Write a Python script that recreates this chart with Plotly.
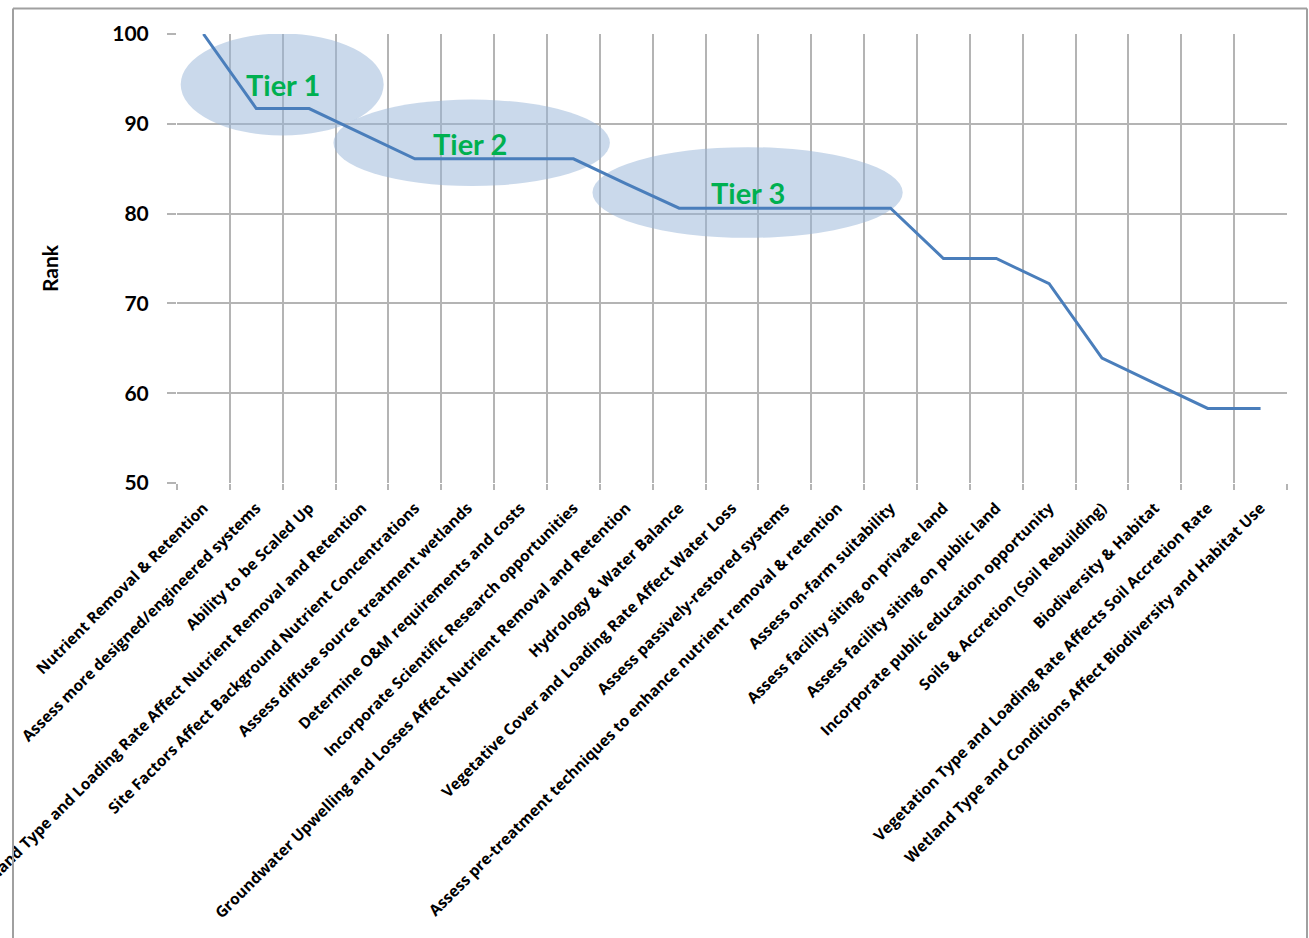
import plotly.graph_objects as go

categories = [
    "Nutrient Removal & Retention",
    "Assess more designed/engineered systems",
    "Ability to be Scaled Up",
    "Wetland Type and Loading Rate Affect Nutrient Removal and Retention",
    "Site Factors Affect Background Nutrient Concentrations",
    "Assess diffuse source treatment wetlands",
    "Determine O&M requirements and costs",
    "Incorporate Scientific Research opportunities",
    "Groundwater Upwelling and Losses Affect Nutrient Removal and Retention",
    "Hydrology & Water Balance",
    "Vegetative Cover and Loading Rate Affect Water Loss",
    "Assess passively-restored systems",
    "Assess pre-treatment techniques to enhance nutrient removal & retention",
    "Assess on-farm suitability",
    "Assess facility siting on private land",
    "Assess facility siting on public land",
    "Incorporate public education opportunity",
    "Soils & Accretion (Soil Rebuilding)",
    "Biodiversity & Habitat",
    "Vegetation Type and Loading Rate Affects Soil Accretion Rate",
    "Wetland Type and Conditions Affect Biodiversity and Habitat Use",
]
rank = [100.0, 91.7, 91.7, 88.9, 86.1, 86.1, 86.1, 86.1, 83.3, 80.6, 80.6,
        80.6, 80.6, 80.6, 75.0, 75.0, 72.2, 63.9, 61.1, 58.3, 58.3]

y_ticks = [50, 60, 70, 80, 90, 100]

tier_labels = ["Tier 1", "Tier 2", "Tier 3"]
tier_label_x = [1.5, 5.05, 10.3]
tier_label_y = [94.4, 87.8, 82.3]
# ellipse extents (x in category index units, y in rank units)
tier_x0 = [-0.43, 2.46, 7.36]
tier_x1 = [3.41, 7.69, 13.23]
tier_y0 = [88.7, 83.06, 77.3]
tier_y1 = [100.05, 92.7, 87.4]

GRID = "#b4b4b4"
FONT = "Lato"
CAT_FONT = "Open Sans"

fig = go.Figure()
fig.add_trace(go.Scatter(
    x=categories, y=rank, mode="lines",
    line=dict(color="#4A7EBB", width=3),
    showlegend=False, hoverinfo="x+y",
))

shapes = []
for x0, x1, y0, y1 in zip(tier_x0, tier_x1, tier_y0, tier_y1):
    shapes.append(dict(type="circle", xref="x", yref="y", x0=x0, x1=x1, y0=y0, y1=y1,
                       fillcolor="rgba(149,179,215,0.5)", line=dict(width=0),
                       layer="between"))

# outer frame (paper coordinates relative to plot area)
W, H = 1309, 938
L, R, T, B = 177, 22, 33.5, 454.5
pw, ph = W - L - R, H - T - B
def px(x):
    return (x - L) / pw
def py(y):
    return 1 - (y - T) / ph
frame_col = "#a0a0a0"
shapes.append(dict(type="line", xref="paper", yref="paper", x0=px(13), x1=px(13), y0=py(8), y1=py(940),
                   line=dict(color=frame_col, width=2)))
shapes.append(dict(type="line", xref="paper", yref="paper", x0=px(13), x1=px(1307), y0=py(8), y1=py(8),
                   line=dict(color=frame_col, width=2)))
shapes.append(dict(type="line", xref="paper", yref="paper", x0=px(1307), x1=px(1307), y0=py(8), y1=py(940),
                   line=dict(color=frame_col, width=2)))

annotations = []
for t, x, y in zip(tier_labels, tier_label_x, tier_label_y):
    annotations.append(dict(text=f"<b>{t}</b>", x=x, y=y, xref="x", yref="y", showarrow=False,
                            font=dict(family=FONT, size=29, color="#00B050")))
annotations.append(dict(text="<b>Rank</b>", x=px(50), y=py(268), xref="paper", yref="paper",
                        xanchor="center", yanchor="middle",
                        showarrow=False, textangle=-90,
                        font=dict(family=FONT, size=21, color="black")))

fig.update_layout(
    width=W, height=H,
    margin=dict(l=L, r=R, t=T, b=B, autoexpand=False),
    paper_bgcolor="white", plot_bgcolor="white",
    shapes=shapes, annotations=annotations,
    font=dict(family=FONT, color="black"),
    xaxis=dict(
        type="category", tickson="boundaries", showgrid=True, gridcolor=GRID, gridwidth=1.5,
        ticks="outside", ticklen=6, tickcolor=GRID, tickwidth=1.5,
        tickangle=-45, tickfont=dict(family=CAT_FONT, size=15.5, weight="bold"),
        ticklabelstandoff=12,
        showline=False, zeroline=False, automargin=False, range=[-0.5, 20.5],
    ),
    yaxis=dict(
        range=[50, 100], tickvals=y_ticks, showgrid=True, gridcolor=GRID, gridwidth=1.5,
        ticks="outside", ticklen=9, tickcolor=GRID, tickwidth=1.5,
        tickfont=dict(family=FONT, size=21, weight="bold"), ticklabelstandoff=14,
        showline=False, zeroline=False, automargin=False,
    ),
)

fig.write_html("out.html")
